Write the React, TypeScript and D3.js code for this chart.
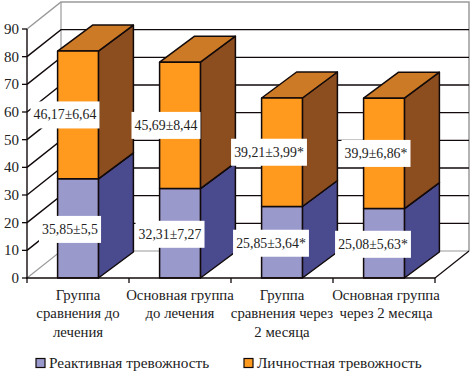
import React from "react";
import * as d3 from "d3";

const categories = ["g1", "g2", "g3", "g4"];
const categoryLines = [
  ["Группа", "сравнения до", "лечения"],
  ["Основная группа", "до лечения"],
  ["Группа", "сравнения через", "2 месяца"],
  ["Основная группа", "через 2 месяца"],
];
const reactive = [35.85, 32.31, 25.85, 25.08];
const personal = [46.17, 45.69, 39.21, 39.9];
const reactiveLabels = ["35,85±5,5", "32,31±7,27", "25,85±3,64*", "25,08±5,63*"];
const personalLabels = ["46,17±6,64", "45,69±8,44", "39,21±3,99*", "39,9±6,86*"];
const reactiveShift = [-8, -10, -11, -11];
const personalShift = [-13, -14, -13, -8];
const yTicks = [0, 10, 20, 30, 40, 50, 60, 70, 80, 90];
const legend = [
  { name: "Реактивная тревожность", color: "#9999cc", x: 36 },
  { name: "Личностная тревожность", color: "#ff9a1f", x: 244 },
];

const FONT = "'Liberation Serif', serif";
const DX = 34;
const DY = -27;
const BAR_DX = 35;
const BAR_DY = -26;
const INK = "#120a0a";
const GREY = "#9a9a9a";

const y = d3.scaleLinear().domain([0, 90]).range([278, 29]);
const x = d3.scaleBand().domain(categories).range([27, 435]).paddingInner(0.6).paddingOuter(0.3);

function poly(points: [number, number][]) {
  return d3.line()(points)! + "Z";
}

function Box({ x0, x1, y0, y1, front, side, top }: any) {
  const stroke = { stroke: INK, strokeWidth: 1.5, strokeLinejoin: "round" as const };
  return (
    <g>
      <path d={poly([[x1, y0], [x1 + BAR_DX, y0 + BAR_DY], [x1 + BAR_DX, y1 + BAR_DY], [x1, y1]])} fill={side} {...stroke} />
      <path d={poly([[x0, y1], [x1, y1], [x1 + BAR_DX, y1 + BAR_DY], [x0 + BAR_DX, y1 + BAR_DY]])} fill={top} {...stroke} />
      <rect x={x0} y={y1} width={x1 - x0} height={y0 - y1} fill={front} {...stroke} />
    </g>
  );
}

function Label({ cx, cy, text }: { cx: number; cy: number; text: string }) {
  const w = text.length * 6.9;
  return (
    <g>
      <rect x={cx - w / 2} y={cy - 13.5} width={w} height={27} fill="#fff" />
      <text x={cx} y={cy + 4.5} textAnchor="middle" fontSize={13.8} fontFamily={FONT} fill="#222">{text}</text>
    </g>
  );
}

export default function App() {
  const left = 27;
  const right = 435;
  const y0 = y(0);
  const yTop = y(90);
  return (
    <svg width={475} height={377} style={{ position: "absolute", left: 0, top: 0, background: "#fff" }}>
      {/* walls */}
      <path d={`M${left},${yTop}L${left + DX},${yTop + DY}H${right + DX}V${y0 + DY}`} fill="none" stroke={GREY} strokeWidth={1.5} />
      <line x1={left + DX} x2={left + DX} y1={yTop + DY} y2={y0 + DY} stroke={GREY} strokeWidth={1.2} />
      <path d={`M${left},${y0}L${left + DX},${y0 + DY}H${right + DX}`} fill="none" stroke={GREY} strokeWidth={1.2} />
      <line x1={right} y1={y0} x2={right + DX} y2={y0 + DY} stroke={INK} strokeWidth={1.2} />
      {yTicks.filter((t) => t > 0 && t < 90).map((t) => (
        <path key={t} d={`M${left},${y(t)}L${left + DX},${y(t) + DY}H${right + DX}`} fill="none" stroke={INK} strokeWidth={1.4} />
      ))}
      {/* bars */}
      {categories.map((c, i) => {
        const x0 = x(c)!;
        const x1 = x0 + x.bandwidth();
        const yA = y(reactive[i]);
        const yB = y(reactive[i] + personal[i]);
        return (
          <g key={c}>
            <Box x0={x0} x1={x1} y0={y0} y1={yA} front="#9999cc" side="#4a4a8e" top="#6f6fae" />
            <Box x0={x0} x1={x1} y0={yA} y1={yB} front="#ff9a1f" side="#8c4d1f" top="#cc7a26" />
          </g>
        );
      })}
      {/* axes */}
      <line x1={left} x2={left} y1={yTop} y2={y0} stroke={INK} strokeWidth={1.4} />
      <line x1={left - 1} x2={right} y1={y0} y2={y0} stroke={INK} strokeWidth={1.5} />
      {yTicks.map((t) => (
        <g key={t}>
          <line x1={left - 5} x2={left} y1={y(t)} y2={y(t)} stroke={INK} strokeWidth={1.3} />
          <text x={19} y={y(t) + 5} textAnchor="end" fontSize={15} fontFamily={FONT} fill="#222">{t}</text>
        </g>
      ))}
      {d3.range(0, 5).map((i) => {
        const tx = left + i * x.step();
        return <line key={i} x1={tx} x2={tx} y1={y0} y2={y0 + 5} stroke={INK} strokeWidth={1.3} />;
      })}
      {/* data labels */}
      {categories.map((c, i) => {
        const cx = x(c)! + x.bandwidth() / 2;
        const yA = y(reactive[i]);
        const yB = y(reactive[i] + personal[i]);
        return (
          <g key={c}>
            <Label cx={cx + personalShift[i]} cy={(yA + yB) / 2} text={personalLabels[i]} />
            <Label cx={cx + reactiveShift[i]} cy={(yA + y0) / 2 + 1} text={reactiveLabels[i]} />
          </g>
        );
      })}
      {/* category labels */}
      {categories.map((c, i) => (
        <text key={c} textAnchor="middle" fontSize={14.8} fontFamily={FONT} fill="#222">
          {categoryLines[i].map((line, j) => (
            <tspan key={j} x={x(c)! + x.bandwidth() / 2 + (i === 3 ? 2 : 0)} y={299.5 + j * 18.5}>{line}</tspan>
          ))}
        </text>
      ))}
      {/* legend */}
      {legend.map((l) => (
        <g key={l.name}>
          <rect x={l.x} y={358.5} width={9} height={9} fill={l.color} stroke={INK} strokeWidth={1.2} />
          <text x={l.x + 13} y={368} fontSize={15.3} fontFamily={FONT} fill="#222">{l.name}</text>
        </g>
      ))}
    </svg>
  );
}
